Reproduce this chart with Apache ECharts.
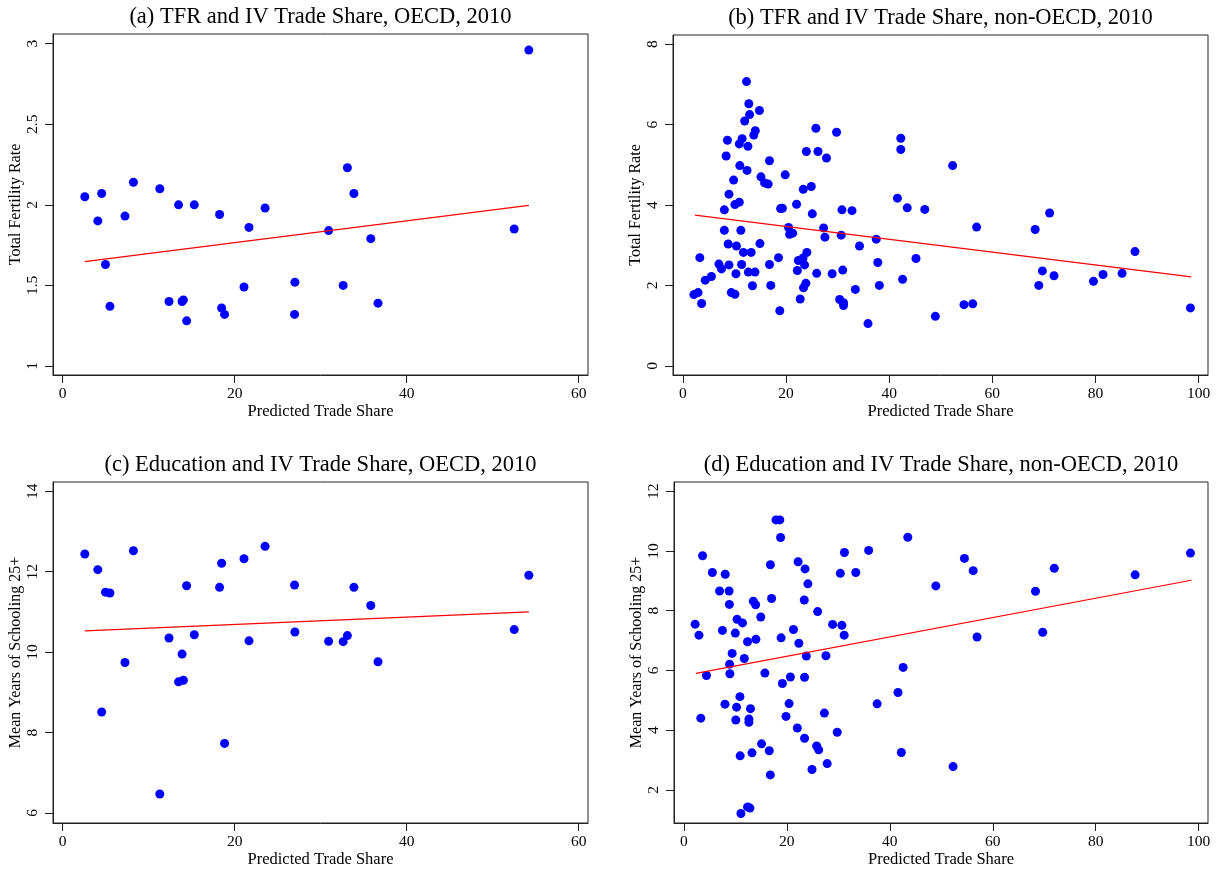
<!DOCTYPE html>
<html>
<head>
<meta charset="utf-8">
<script src="https://cdn.jsdelivr.net/npm/echarts@6/dist/echarts.min.js"></script>
<style>
html,body{margin:0;padding:0;background:#fff;}
#chart{width:1221px;height:869px;}
</style>
</head>
<body>
<div id="chart"></div>
<script>
// ---------- data ----------
const titles = [
  "(a) TFR and IV Trade Share, OECD, 2010",
  "(b) TFR and IV Trade Share, non-OECD, 2010",
  "(c) Education and IV Trade Share, OECD, 2010",
  "(d) Education and IV Trade Share, non-OECD, 2010"
];
const xName = "Predicted Trade Share";
const yNames = ["Total Fertility Rate", "Total Fertility Rate", "Mean Years of Schooling 25+", "Mean Years of Schooling 25+"];

// OECD predicted trade share (shared by a and c)
const xOECD = [2.58,4.09,4.54,4.98,5.5,7.25,8.23,11.3,12.37,13.48,13.89,14.04,14.42,15.31,18.25,18.49,18.83,21.09,21.67,23.54,26.97,27.01,30.93,32.62,33.11,33.87,35.83,36.67,52.51,54.21];
const tfrOECD = [2.05,1.90,2.07,1.63,1.37,1.93,2.14,2.10,1.40,2.00,1.40,1.41,1.28,2.00,1.94,1.36,1.32,1.49,1.86,1.98,1.32,1.52,1.84,1.50,2.23,2.07,1.79,1.39,1.85,2.96];
const eduOECD = [12.44,12.05,8.51,11.49,11.47,9.74,12.52,6.47,10.35,9.26,9.95,9.30,11.65,10.43,11.61,12.21,7.73,12.32,10.28,12.63,11.67,10.50,10.27,10.26,10.41,11.61,11.16,9.76,10.56,11.91];

// non-OECD, panel (b)
const xNonB = [2.15,2.95,3.3,3.65,4.35,5.55,7.0,7.5,8.05,8.05,8.4,8.65,8.8,8.95,8.95,9.4,9.85,10.1,10.1,10.3,10.4,10.95,10.95,11.05,11.25,11.4,11.5,11.75,12.0,12.35,12.45,12.62,12.7,12.8,12.95,13.25,13.5,13.75,14.05,14.0,14.85,14.95,15.15,15.85,16.55,16.8,16.8,17.05,18.55,18.8,18.95,19.3,19.85,20.5,20.7,21.3,22.05,22.2,22.4,22.75,23.3,23.35,23.4,23.6,23.85,23.95,24.05,24.9,25.1,25.8,25.95,26.2,27.3,27.55,27.85,28.95,29.8,30.4,30.7,30.85,31.0,31.15,31.15,32.8,33.45,34.25,35.9,37.5,37.8,38.1,41.6,42.25,42.25,42.6,43.5,45.2,46.9,48.95,52.3,54.5,56.2,56.95,68.3,69.0,69.7,71.1,71.95,79.6,81.45,85.15,87.65,98.4];
const tfrNonOECD = [1.77,1.82,2.69,1.55,2.13,2.22,2.53,2.41,3.37,3.88,5.22,5.61,3.03,4.27,2.51,1.82,4.62,1.78,4.01,2.29,2.98,5.52,4.07,4.98,3.37,2.52,5.65,2.82,6.09,7.07,4.86,5.46,2.33,6.52,6.25,2.82,1.99,5.74,5.85,2.33,6.35,3.04,4.70,4.55,4.52,5.10,2.52,2.00,2.69,1.37,3.91,3.92,4.75,3.44,3.27,3.30,4.02,2.37,2.62,1.66,2.68,4.39,1.94,2.51,2.05,5.33,2.82,4.46,3.78,5.91,2.30,5.33,3.43,3.20,5.17,2.29,5.81,1.65,3.25,3.88,2.38,1.57,1.50,3.86,1.90,2.98,1.05,3.15,2.57,2.00,4.17,5.38,5.66,2.15,3.93,2.67,3.89,1.23,4.98,1.52,1.54,3.45,3.39,2.00,2.36,3.80,2.24,2.10,2.27,2.30,2.84,1.44];

// non-OECD, panel (d)
const xNonD = [2.2,2.95,3.3,3.65,4.4,5.55,6.95,7.5,8.0,8.05,8.8,8.85,8.9,8.95,9.4,10.0,10.1,10.25,10.35,10.9,10.95,11.1,11.4,11.75,12.38,12.38,12.65,12.65,12.85,12.95,13.25,13.5,13.95,14.0,14.95,15.1,15.75,16.6,16.8,16.82,17.05,17.9,18.65,18.8,18.9,19.15,19.85,20.45,20.7,21.3,22.05,22.2,22.35,23.4,23.45,23.45,23.55,23.8,24.1,24.9,25.8,26.2,26.0,27.3,27.6,27.85,28.9,29.8,30.4,30.7,31.15,31.2,33.4,35.9,37.55,41.6,42.25,42.6,43.5,48.95,52.3,54.5,56.2,56.95,68.3,69.7,71.95,87.65,98.4];
const eduNonOECD = [7.55,7.18,4.40,9.84,5.83,9.28,8.66,7.34,4.87,9.22,8.66,8.21,6.21,5.89,6.57,7.25,4.34,4.77,7.71,5.12,3.14,1.21,7.59,6.40,6.96,1.43,4.37,4.26,1.39,4.72,3.24,8.32,8.20,7.04,7.79,3.54,5.91,3.31,2.50,9.54,8.41,11.04,11.04,10.45,7.09,5.56,4.46,4.89,5.78,7.37,4.07,9.64,6.91,8.36,3.73,5.77,9.40,6.48,8.90,2.68,3.47,3.34,7.97,4.57,6.49,2.88,7.54,3.93,9.25,7.51,7.18,9.95,9.28,10.02,4.88,5.26,3.25,6.10,10.46,8.83,2.78,9.75,9.34,7.12,8.65,7.28,9.42,9.20,9.93];

// fitted lines (endpoints): [x0, y0, x1, y1]
const fitA = [2.58, 1.648, 54.21, 1.996];
const fitB = [2.35, 3.75, 98.56, 2.21];
const fitC = [2.58, 10.53, 54.21, 11.0];
const fitD = [2.35, 5.90, 98.56, 9.02];

// tick labels
const ticksXOECD = [0, 20, 40, 60];
const ticksXNon = [0, 20, 40, 60, 80, 100];
const ticksTfrOECD = [1, 1.5, 2, 2.5, 3];
const ticksTfrNon = [0, 2, 4, 6, 8];
const ticksEduOECD = [6, 8, 10, 12, 14];
const ticksEduNon = [2, 4, 6, 8, 10, 12];

// ---------- chart ----------
const FONT = "Liberation Serif";
const grids = [
  {left: 53, top: 34, width: 535, height: 341},
  {left: 673, top: 35, width: 535, height: 340},
  {left: 53, top: 482, width: 535, height: 341},
  {left: 674, top: 482, width: 534, height: 341}
];
const xRanges = [[-1.12, 61.09], [-1.9, 101.8], [-1.12, 61.09], [-1.9, 101.8]];
const yRanges = [[0.944, 3.06], [-0.23, 8.23], [5.75, 14.23], [0.89, 12.31]];
const xTicks = [ticksXOECD, ticksXNon, ticksXOECD, ticksXNon];
const yTicks = [ticksTfrOECD, ticksTfrNon, ticksEduOECD, ticksEduNon];

function zip(xs, ys) { return xs.map((x, i) => [x, ys[i]]); }
function fit(f) { return [[f[0], f[1]], [f[2], f[3]]]; }

const scatterData = [zip(xOECD, tfrOECD), zip(xNonB, tfrNonOECD), zip(xOECD, eduOECD), zip(xNonD, eduNonOECD)];
const fitData = [fit(fitA), fit(fitB), fit(fitC), fit(fitD)];

const option = {
  animation: false,
  backgroundColor: '#fff',
  title: grids.map((g, i) => ({
    text: titles[i],
    left: g.left + g.width / 2,
    top: g.top - 28,
    textAlign: 'center',
    padding: 0,
    textStyle: {fontFamily: FONT, fontSize: 22.5, fontWeight: 'normal', color: '#000'}
  })),
  grid: grids.map(g => Object.assign({show: true, borderColor: '#222', borderWidth: 1, backgroundColor: '#fff', containLabel: false, outerBoundsMode: 'none'}, g)),
  xAxis: grids.map((g, i) => ({
    type: 'value', gridIndex: i, min: xRanges[i][0], max: xRanges[i][1],
    name: xName, nameLocation: 'middle', nameGap: 24,
    nameTextStyle: {fontFamily: FONT, fontSize: 16.5, color: '#000'},
    axisLine: {show: true, onZero: false, lineStyle: {color: '#222', width: 1}},
    axisTick: {show: true, customValues: xTicks[i], length: 8, lineStyle: {color: '#222'}},
    axisLabel: {customValues: xTicks[i], margin: 11, fontFamily: FONT, fontSize: 15.5, color: '#000'},
    splitLine: {show: false}
  })),
  yAxis: grids.map((g, i) => ({
    type: 'value', gridIndex: i, min: yRanges[i][0], max: yRanges[i][1],
    name: yNames[i], nameLocation: 'middle', nameGap: 27,
    nameTextStyle: {fontFamily: FONT, fontSize: 16, color: '#000'},
    axisLine: {show: true, onZero: false, lineStyle: {color: '#222', width: 1}},
    axisTick: {show: true, customValues: yTicks[i], length: 8, lineStyle: {color: '#222'}},
    axisLabel: {customValues: yTicks[i], rotate: 90, margin: 12, fontFamily: FONT, fontSize: 15.5, color: '#000'},
    splitLine: {show: false}
  })),
  series: [].concat(
    scatterData.map((d, i) => ({
      type: 'scatter', xAxisIndex: i, yAxisIndex: i, data: d,
      symbol: 'circle', symbolSize: 9,
      itemStyle: {color: '#0000ff', opacity: 1},
      silent: true
    })),
    fitData.map((d, i) => ({
      type: 'line', xAxisIndex: i, yAxisIndex: i, data: d,
      showSymbol: false, symbol: 'none',
      lineStyle: {color: '#ff0000', width: 1.2},
      silent: true, z: 3
    }))
  )
};

const chart = echarts.init(document.getElementById('chart'), null, {renderer: 'canvas'});
chart.setOption(option);
</script>
</body>
</html>
